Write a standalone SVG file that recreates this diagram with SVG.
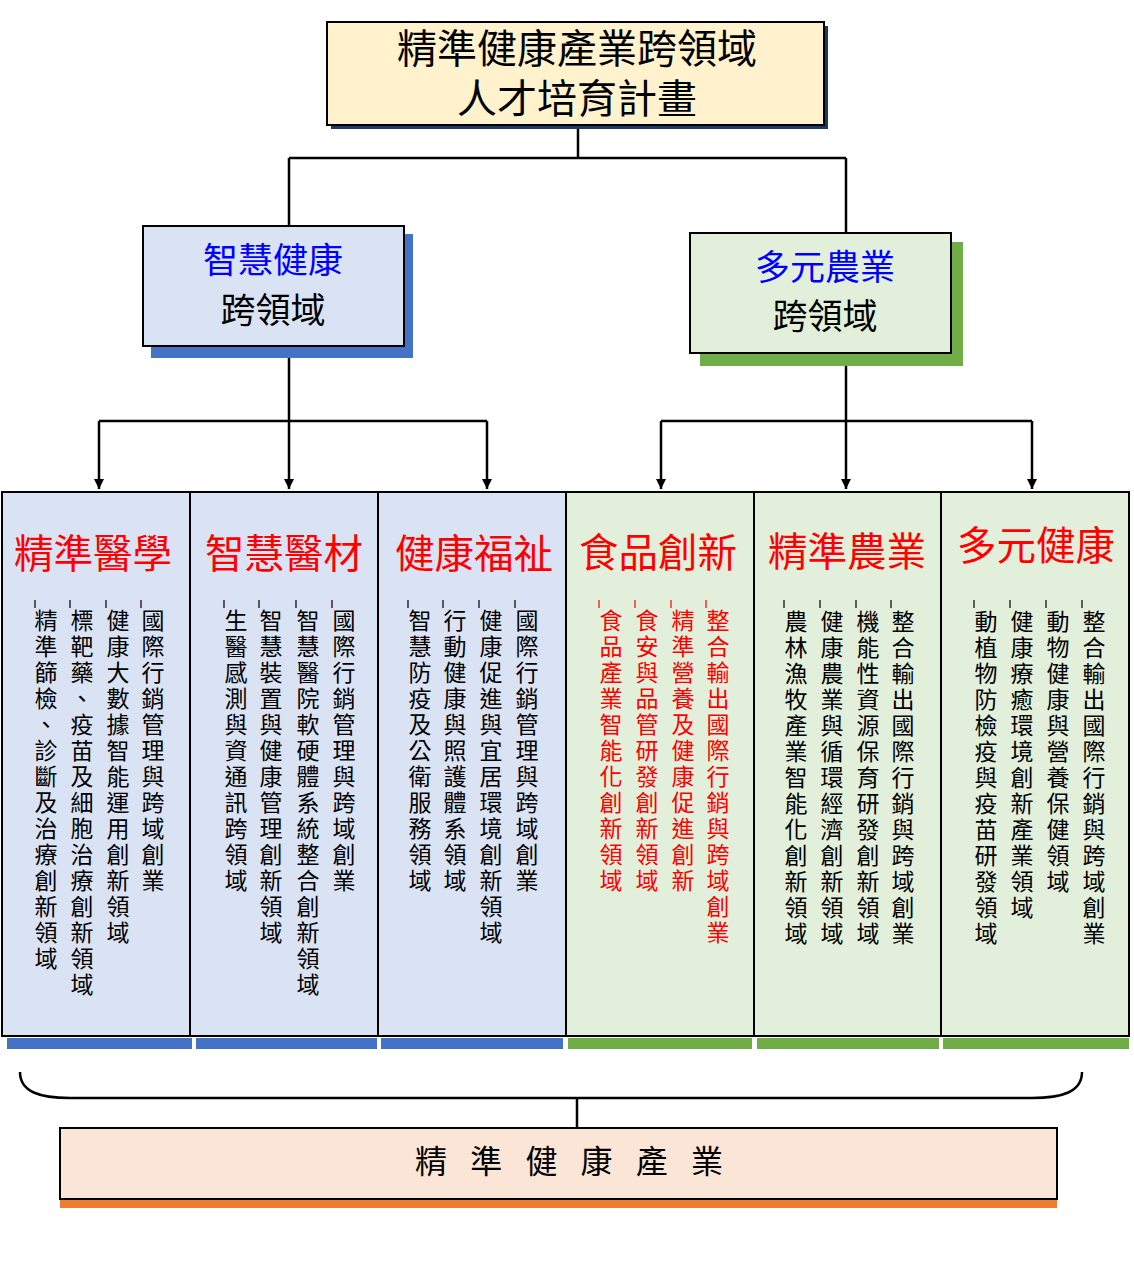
<svg xmlns="http://www.w3.org/2000/svg" width="1134" height="1286" viewBox="0 0 1134 1286">
<style>
text{font-family:"Noto Sans CJK TC","Noto Sans CJK SC",sans-serif;}
.box{stroke:#000;stroke-width:2;}
.blue{fill:#dae3f3;}
.green{fill:#e2efda;}
.t40{font-size:40px;text-anchor:middle;fill:#000;}
.t35{font-size:35px;text-anchor:middle;}
.hd{font-size:39.5px;text-anchor:middle;fill:#ff0000;}
.v{writing-mode:vertical-rl;font-size:23px;letter-spacing:3px;fill:#000;}
.r{fill:#ff0000;}
.tick{stroke:#000;stroke-width:1.2;}
.tickr{stroke:#ff0000;stroke-width:1.2;}
.ln{stroke:#000;stroke-width:2.5;fill:none;}
</style>
<defs>
<marker id="arr" viewBox="0 0 10 10" refX="10" refY="5" markerWidth="4" markerHeight="4" orient="auto" markerUnits="strokeWidth">
<path d="M0,0 L10,5 L0,10 z" fill="#000"/>
</marker>
</defs>
<rect width="1134" height="1286" fill="#fff"/>

<g id="connectors">
<path class="ln" d="M578,125 V158 M289,158 H846 M289,158 V226 M846,158 V233"/>
<path class="ln" d="M289,346 V421 M99,421 H487 M846,353 V421 M661,421 H1032"/>
<path class="ln" d="M99,421 V489" marker-end="url(#arr)"/>
<path class="ln" d="M289,421 V489" marker-end="url(#arr)"/>
<path class="ln" d="M487,421 V489" marker-end="url(#arr)"/>
<path class="ln" d="M661,421 V489" marker-end="url(#arr)"/>
<path class="ln" d="M846,421 V489" marker-end="url(#arr)"/>
<path class="ln" d="M1032,421 V489" marker-end="url(#arr)"/>
<path class="ln" stroke-width="2" d="M20,1072 C20,1092 40,1098 70,1098 H1032 C1062,1098 1082,1092 1082,1072"/>
<path class="ln" d="M577,1098 V1128"/>
</g>

<g id="top">
<rect x="331" y="26" width="497" height="103" fill="#203864"/>
<rect class="box" x="327" y="22" width="497" height="103" fill="#fff2cc"/>
<text class="t40"><tspan x="577" y="63">精準健康產業跨領域</tspan><tspan x="577" y="113">人才培育計畫</tspan></text>
</g>

<g id="smart-health">
<rect x="151" y="234" width="262" height="124" fill="#4472c4"/>
<rect class="box blue" x="143" y="226" width="261" height="120"/>
<text class="t35" x="273" y="273" fill="#0000ff">智慧健康</text>
<text class="t35" x="273" y="323" fill="#000">跨領域</text>
</g>

<g id="multi-agri">
<rect x="700" y="242" width="263" height="124" fill="#70ad47"/>
<rect class="box green" x="690" y="233" width="261" height="120"/>
<text class="t35" x="825" y="280" fill="#0000ff">多元農業</text>
<text class="t35" x="825" y="329" fill="#000">跨領域</text>
</g>

<g id="col1">
<rect x="7" y="1038" width="185" height="11" fill="#4472c4"/>
<rect class="box blue" x="2" y="492" width="188" height="544"/>
<text class="hd" x="93" y="568">精準醫學</text>
<path class="tick" d="M141,600 V608 M106,600 V608 M70,600 V608 M35,600 V608"/>
<text class="v" x="153" y="609">國際行銷管理與跨域創業</text>
<text class="v" x="118" y="609">健康大數據智能運用創新領域</text>
<text class="v" x="82" y="609">標靶藥、疫苗及細胞治療創新領域</text>
<text class="v" x="46" y="609">精準篩檢、診斷及治療創新領域</text>
</g>

<g id="col2">
<rect x="196" y="1038" width="181" height="11" fill="#4472c4"/>
<rect class="box blue" x="190" y="492" width="188" height="544"/>
<text class="hd" x="284" y="568">智慧醫材</text>
<path class="tick" d="M332,600 V608 M296,600 V608 M259,600 V608 M224,600 V608"/>
<text class="v" x="344" y="609">國際行銷管理與跨域創業</text>
<text class="v" x="308" y="609">智慧醫院軟硬體系統整合創新領域</text>
<text class="v" x="271" y="609">智慧裝置與健康管理創新領域</text>
<text class="v" x="236" y="609">生醫感測與資通訊跨領域</text>
</g>

<g id="col3">
<rect x="381" y="1038" width="182" height="11" fill="#4472c4"/>
<rect class="box blue" x="378" y="492" width="188" height="544"/>
<text class="hd" x="474" y="568">健康福祉</text>
<path class="tick" d="M515,600 V608 M479,600 V608 M443,600 V608 M408,600 V608"/>
<text class="v" x="527" y="609">國際行銷管理與跨域創業</text>
<text class="v" x="491" y="609">健康促進與宜居環境創新領域</text>
<text class="v" x="455" y="609">行動健康與照護體系領域</text>
<text class="v" x="420" y="609">智慧防疫及公衛服務領域</text>
</g>

<g id="col4">
<rect x="568" y="1038" width="184" height="11" fill="#70ad47"/>
<rect class="box green" x="566" y="492" width="188" height="544"/>
<text class="hd" x="658" y="567">食品創新</text>
<path class="tickr" d="M706,600 V608 M671,600 V608 M635,600 V608 M599,600 V608"/>
<text class="v r" x="718" y="609">整合輸出國際行銷與跨域創業</text>
<text class="v r" x="683" y="609">精準營養及健康促進創新</text>
<text class="v r" x="647" y="609">食安與品管研發創新領域</text>
<text class="v r" x="611" y="609">食品產業智能化創新領域</text>
</g>

<g id="col5">
<rect x="757" y="1038" width="182" height="11" fill="#70ad47"/>
<rect class="box green" x="754" y="492" width="187" height="544"/>
<text class="hd" x="847" y="566">精準農業</text>
<path class="tick" d="M891,600 V608 M856,600 V608 M820,600 V608 M784,600 V608"/>
<text class="v" x="903" y="610">整合輸出國際行銷與跨域創業</text>
<text class="v" x="868" y="610">機能性資源保育研發創新領域</text>
<text class="v" x="832" y="610">健康農業與循環經濟創新領域</text>
<text class="v" x="796" y="610">農林漁牧產業智能化創新領域</text>
</g>

<g id="col6">
<rect x="943" y="1038" width="186" height="11" fill="#70ad47"/>
<rect class="box green" x="941" y="492" width="188" height="544"/>
<text class="hd" x="1036" y="560">多元健康</text>
<path class="tick" d="M1082,600 V608 M1046,600 V608 M1010,600 V608 M974,600 V608"/>
<text class="v" x="1094" y="610">整合輸出國際行銷與跨域創業</text>
<text class="v" x="1058" y="610">動物健康與營養保健領域</text>
<text class="v" x="1022" y="610">健康療癒環境創新產業領域</text>
<text class="v" x="986" y="610">動植物防檢疫與疫苗研發領域</text>
</g>

<g id="bottom">
<rect x="60" y="1199" width="997" height="9" fill="#ed7d31"/>
<rect class="box" x="60" y="1128" width="997" height="71" fill="#fbe5d6"/>
<text x="573" y="1173" font-size="32" text-anchor="middle" letter-spacing="8" fill="#000">精 準 健 康 產 業</text>
</g>
</svg>
